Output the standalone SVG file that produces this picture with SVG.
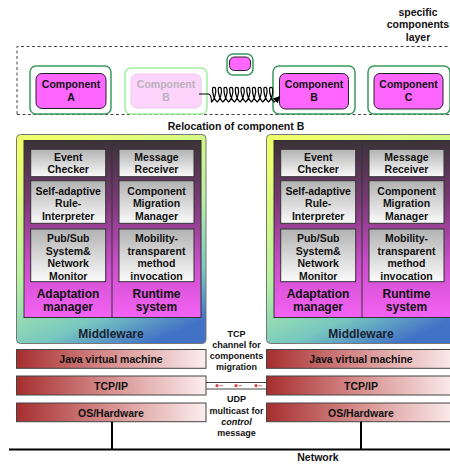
<svg xmlns="http://www.w3.org/2000/svg" width="450" height="464" viewBox="0 0 450 464">
<defs>
<linearGradient id="gOuter" x1="0.3" y1="0" x2="0.7" y2="1">
<stop offset="0" stop-color="#eeff6c"/>
<stop offset="0.5" stop-color="#b8f2a0"/>
<stop offset="0.8" stop-color="#78c8c0"/>
<stop offset="1" stop-color="#4272c6"/>
</linearGradient>
<linearGradient id="gInner" x1="0" y1="0" x2="0" y2="1">
<stop offset="0" stop-color="#3a3238"/>
<stop offset="0.35" stop-color="#7c3a78"/>
<stop offset="0.7" stop-color="#cc4ecc"/>
<stop offset="1" stop-color="#f462f4"/>
</linearGradient>
<linearGradient id="gBox" x1="0" y1="0" x2="0" y2="1">
<stop offset="0" stop-color="#b2b2b2"/>
<stop offset="1" stop-color="#fbfbfb"/>
</linearGradient>
<linearGradient id="gBar" x1="0" y1="0" x2="1" y2="0">
<stop offset="0" stop-color="#a62e2e"/>
<stop offset="0.5" stop-color="#d89090"/>
<stop offset="1" stop-color="#fbeeee"/>
</linearGradient>
<marker id="arr" viewBox="0 0 10 10" refX="8" refY="5" markerWidth="7" markerHeight="7" orient="auto" markerUnits="userSpaceOnUse">
<path d="M0,0 L10,5 L0,10 z" fill="#000"/>
</marker>
</defs>
<style>
text{font-family:"Liberation Sans",Arial,sans-serif;font-weight:bold;fill:#111;text-anchor:middle}
.t105{font-size:10.5px}
.t12{font-size:12px}
.t9{font-size:9px}
.cOut{fill:#fff;stroke:#3a9a5e;stroke-width:1.5}
.cIn{fill:#ff66ff;stroke:#222;stroke-width:1}
.outer{fill:url(#gOuter);stroke:#777;stroke-width:1}
.inner{fill:url(#gInner);stroke:#333;stroke-width:1}
.box{fill:url(#gBox);stroke:#333;stroke-width:1}
.bar{fill:url(#gBar);stroke:#444;stroke-width:1}
.line{stroke:#000;fill:none}
</style>

<!-- layer frame -->
<g id="layer">
<path d="M17,114 V46.5 H450 M17,114.5 H450" fill="none" stroke="#444" stroke-width="1" stroke-dasharray="3 2.5"/>
<text class="t105" x="418" y="15.7">specific</text>
<text class="t105" x="418" y="28.2">components</text>
<text class="t105" x="418" y="40.7">layer</text>
<text class="t105" x="236" y="129.8">Relocation of component B</text>
</g>

<g id="compA">
<rect class="cOut" x="30" y="66" width="81" height="48" rx="6"/>
<rect class="cIn" x="36" y="73.5" width="70" height="35" rx="6"/>
<text class="t105" x="71" y="88">Component</text>
<text class="t105" x="71" y="101">A</text>
</g>
<g id="compB-ghost">
<rect x="125" y="68" width="82" height="46" rx="6" fill="#fff" stroke="#a0f0a0" stroke-width="1.5"/>
<rect x="131" y="74" width="70" height="34" rx="6" fill="#fcd4fc" stroke="#ecc8ec" stroke-width="1"/>
<text class="t105" x="166" y="88" style="fill:#bbb0bb">Component</text>
<text class="t105" x="166" y="101" style="fill:#bbb0bb">B</text>
</g>
<g id="compMoving">
<rect class="cOut" x="227" y="54" width="26" height="21" rx="6"/>
<rect class="cIn" x="229.5" y="57" width="21" height="13.5" rx="5"/>
</g>
<g id="compB">
<rect class="cOut" x="273" y="66" width="82" height="48" rx="6"/>
<rect class="cIn" x="279.5" y="73.5" width="69" height="35.5" rx="6"/>
<text class="t105" x="314" y="88">Component</text>
<text class="t105" x="314" y="101">B</text>
</g>
<g id="compC">
<rect class="cOut" x="368" y="66" width="82" height="48" rx="6"/>
<rect class="cIn" x="374" y="73.5" width="69" height="35.5" rx="6"/>
<text class="t105" x="408.5" y="88">Component</text>
<text class="t105" x="408.5" y="101">C</text>
</g>

<!-- left host -->
<g id="hostLeft">
<rect class="outer" x="16.5" y="134.5" width="189.5" height="209" rx="4"/>
<rect class="inner" x="24" y="140.5" width="177" height="177"/>
<line x1="112" y1="140.5" x2="112" y2="317.5" stroke="#333" stroke-width="1"/>
<rect class="box" x="30.7" y="149.3" width="75" height="27.4"/>
<text class="t105" x="68.2" y="160.5">Event</text>
<text class="t105" x="68.2" y="173">Checker</text>
<rect class="box" x="30.7" y="180.7" width="75" height="42.6"/>
<text class="t105" x="68.2" y="194.8">Self-adaptive</text>
<text class="t105" x="68.2" y="207.3">Rule-</text>
<text class="t105" x="68.2" y="219.8">Interpreter</text>
<rect class="box" x="30.7" y="229" width="75" height="52.7"/>
<text class="t105" x="68.2" y="242">Pub/Sub</text>
<text class="t105" x="68.2" y="254.5">System&amp;</text>
<text class="t105" x="68.2" y="267">Network</text>
<text class="t105" x="68.2" y="279.5">Monitor</text>
<rect class="box" x="119" y="149.3" width="75" height="27.4"/>
<text class="t105" x="156.5" y="160.5">Message</text>
<text class="t105" x="156.5" y="173">Receiver</text>
<rect class="box" x="119" y="180.7" width="75" height="42.6"/>
<text class="t105" x="156.5" y="194.8">Component</text>
<text class="t105" x="156.5" y="207.3">Migration</text>
<text class="t105" x="156.5" y="219.8">Manager</text>
<rect class="box" x="119" y="229" width="75" height="52.7"/>
<text class="t105" x="156.5" y="242">Mobility-</text>
<text class="t105" x="156.5" y="254.5">transparent</text>
<text class="t105" x="156.5" y="267">method</text>
<text class="t105" x="156.5" y="279.5">invocation</text>
<text class="t12" x="68" y="297.6">Adaptation</text>
<text class="t12" x="68" y="311">manager</text>
<text class="t12" x="156.5" y="297.6">Runtime</text>
<text class="t12" x="156.5" y="311">system</text>
<text class="t12" x="111" y="338.3" style="fill:#1a2232">Middleware</text>
<rect class="bar" x="16.5" y="349.5" width="189.5" height="18.8"/>
<text class="t105" x="111" y="363.1">Java virtual machine</text>
<rect class="bar" x="16.5" y="376" width="189.5" height="19"/>
<text class="t105" x="111" y="389.5">TCP/IP</text>
<rect class="bar" x="16.5" y="403" width="189.5" height="18.7"/>
<text class="t105" x="111" y="416.5">OS/Hardware</text>
</g>

<!-- right host -->
<g id="hostRight" transform="translate(250,0)">
<rect class="outer" x="16.5" y="134.5" width="189.5" height="209" rx="4"/>
<rect class="inner" x="24" y="140.5" width="177" height="177"/>
<line x1="112" y1="140.5" x2="112" y2="317.5" stroke="#333" stroke-width="1"/>
<rect class="box" x="30.7" y="149.3" width="75" height="27.4"/>
<text class="t105" x="68.2" y="160.5">Event</text>
<text class="t105" x="68.2" y="173">Checker</text>
<rect class="box" x="30.7" y="180.7" width="75" height="42.6"/>
<text class="t105" x="68.2" y="194.8">Self-adaptive</text>
<text class="t105" x="68.2" y="207.3">Rule-</text>
<text class="t105" x="68.2" y="219.8">Interpreter</text>
<rect class="box" x="30.7" y="229" width="75" height="52.7"/>
<text class="t105" x="68.2" y="242">Pub/Sub</text>
<text class="t105" x="68.2" y="254.5">System&amp;</text>
<text class="t105" x="68.2" y="267">Network</text>
<text class="t105" x="68.2" y="279.5">Monitor</text>
<rect class="box" x="119" y="149.3" width="75" height="27.4"/>
<text class="t105" x="156.5" y="160.5">Message</text>
<text class="t105" x="156.5" y="173">Receiver</text>
<rect class="box" x="119" y="180.7" width="75" height="42.6"/>
<text class="t105" x="156.5" y="194.8">Component</text>
<text class="t105" x="156.5" y="207.3">Migration</text>
<text class="t105" x="156.5" y="219.8">Manager</text>
<rect class="box" x="119" y="229" width="75" height="52.7"/>
<text class="t105" x="156.5" y="242">Mobility-</text>
<text class="t105" x="156.5" y="254.5">transparent</text>
<text class="t105" x="156.5" y="267">method</text>
<text class="t105" x="156.5" y="279.5">invocation</text>
<text class="t12" x="68" y="297.6">Adaptation</text>
<text class="t12" x="68" y="311">manager</text>
<text class="t12" x="156.5" y="297.6">Runtime</text>
<text class="t12" x="156.5" y="311">system</text>
<text class="t12" x="111" y="338.3" style="fill:#1a2232">Middleware</text>
<rect class="bar" x="16.5" y="349.5" width="189.5" height="18.8"/>
<text class="t105" x="111" y="363.1">Java virtual machine</text>
<rect class="bar" x="16.5" y="376" width="189.5" height="19"/>
<text class="t105" x="111" y="389.5">TCP/IP</text>
<rect class="bar" x="16.5" y="403" width="189.5" height="18.7"/>
<text class="t105" x="111" y="416.5">OS/Hardware</text>
</g>

<!-- connectors -->
<g id="connectors">
<path class="line" stroke-width="1.2" marker-end="url(#arr)" d="M199,94 H208 Q211.5,94 211.5,102 c 3,-2 5,-10 4,-13.5 c -0.5,-1.5 -3,-1.5 -3,0.5 c 0,4 1.5,11 4.7,13 c 3,-2 5,-10 4,-13.5 c -0.5,-1.5 -3,-1.5 -3,0.5 c 0,4 1.5,11 4.7,13 c 3,-2 5,-10 4,-13.5 c -0.5,-1.5 -3,-1.5 -3,0.5 c 0,4 1.5,11 4.7,13 c 3,-2 5,-10 4,-13.5 c -0.5,-1.5 -3,-1.5 -3,0.5 c 0,4 1.5,11 4.7,13 c 3,-2 5,-10 4,-13.5 c -0.5,-1.5 -3,-1.5 -3,0.5 c 0,4 1.5,11 4.7,13 c 3,-2 5,-10 4,-13.5 c -0.5,-1.5 -3,-1.5 -3,0.5 c 0,4 1.5,11 4.7,13 c 3,-2 5,-10 4,-13.5 c -0.5,-1.5 -3,-1.5 -3,0.5 c 0,4 1.5,11 4.7,13 c 3,-2 5,-10 4,-13.5 c -0.5,-1.5 -3,-1.5 -3,0.5 c 0,4 1.5,11 4.7,13 c 3,-2 5,-10 4,-13.5 c -0.5,-1.5 -3,-1.5 -3,0.5 c 0,4 1.5,11 4.7,13 c 3,-2 5,-10 4,-13.5 c -0.5,-1.5 -3,-1.5 -3,0.5 c 0,4 1.5,11 4.7,13 c 3,-2 5,-10 4,-13.5 c -0.5,-1.5 -3,-1.5 -3,0.5 c 0,4 1.5,11 4.7,13 l 5,-5"/>
<g id="tcp-channel">
<line x1="206" y1="382.5" x2="266.5" y2="382.5" stroke="#444" stroke-width="1"/>
<line x1="206" y1="389" x2="266.5" y2="389" stroke="#444" stroke-width="1"/>
<g fill="#d04848">
<circle cx="217" cy="385.7" r="1.6"/>
<circle cx="236" cy="385.7" r="1.6"/>
<circle cx="256" cy="385.7" r="1.6"/>
</g>
<g stroke="#e07070" stroke-width="1">
<line x1="219.5" y1="385.7" x2="223" y2="385.7"/>
<line x1="238.5" y1="385.7" x2="242" y2="385.7"/>
<line x1="258.5" y1="385.7" x2="262" y2="385.7"/>
</g>
</g>
<line x1="9" y1="449.5" x2="450" y2="449.5" stroke="#000" stroke-width="2"/>
<line x1="112" y1="421.7" x2="112" y2="449.5" stroke="#000" stroke-width="2"/>
<line x1="361" y1="421.7" x2="361" y2="449.5" stroke="#000" stroke-width="2"/>
</g>

<g id="labels">
<text class="t9" x="236.5" y="337.3">TCP</text>
<text class="t9" x="236.5" y="348.3">channel for</text>
<text class="t9" x="236.5" y="359.3">components</text>
<text class="t9" x="236.5" y="370">migration</text>
<text class="t9" x="236.5" y="402.3">UDP</text>
<text class="t9" x="236.5" y="414">multicast for</text>
<text class="t9" x="236.5" y="425" font-style="italic">control</text>
<text class="t9" x="236.5" y="436">message</text>
<text class="t105" x="318" y="460.5">Network</text>
</g>
</svg>
